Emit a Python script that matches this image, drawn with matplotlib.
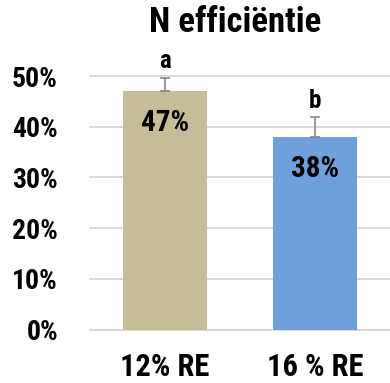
import matplotlib
matplotlib.use("Agg")
import matplotlib.pyplot as plt
from matplotlib import font_manager
from matplotlib.ticker import PercentFormatter

# Data
categories = ["12% RE", "16 % RE"]
efficiency = [0.47, 0.38]
error_up = [0.027, 0.039]
letters = ["a", "b"]
bar_colors = ["#C4BD97", "#6FA0DC"]
y_ticks = [0.0, 0.1, 0.2, 0.3, 0.4, 0.5]
title = "N efficiëntie"

# Pick a condensed family if one is installed
available = {f.name for f in font_manager.fontManager.ttflist}
family = "DejaVu Sans"
stretch = "normal"
for cand in ["Roboto Condensed", "Liberation Sans Narrow", "Open Sans Condensed",
             "DejaVu Sans Condensed"]:
    if cand in available:
        family = cand
        break
else:
    stretch = "condensed"

plt.rcParams["font.family"] = [family, "DejaVu Sans"]
plt.rcParams["font.stretch"] = stretch
plt.rcParams["font.weight"] = "bold"

fig = plt.figure(figsize=(3.9, 3.83), dpi=100)
ax = fig.add_axes([90 / 390, 53.3 / 383, 300 / 390, 253.7 / 383])

x = list(range(len(categories)))
ax.bar(x, efficiency, width=0.56, color=bar_colors, zorder=2)
ax.errorbar(x, efficiency, yerr=[[0] * len(error_up), error_up], fmt="none",
            ecolor="#7F7F7F", elinewidth=1.1, capsize=3.6, capthick=1.1, zorder=3)

for xi, v, e, lab in zip(x, efficiency, error_up, letters):
    ax.annotate(f"{v:.0%}", (xi, v), xytext=(0, -23), textcoords="offset points",
                ha="center", va="center", fontsize=21, fontweight="bold", color="black")
    ax.annotate(lab, (xi, v + e), xytext=(0, 6.5), textcoords="offset points",
                ha="center", va="baseline", fontsize=18, fontweight="bold", color="black")

ax.set_xlim(-0.5, 1.5)
ax.set_ylim(0, 0.5)
ax.set_yticks(y_ticks)
ax.yaxis.set_major_formatter(PercentFormatter(1.0, decimals=0))
ax.set_xticks(x)
ax.set_xticklabels(categories)
ax.tick_params(axis="y", length=0, pad=23, labelsize=20)
ax.tick_params(axis="x", length=0, pad=16, labelsize=22)
for lab in ax.get_yticklabels() + ax.get_xticklabels():
    lab.set_fontweight("bold")

ax.yaxis.grid(True, color="#D9D9D9", linewidth=1.4, zorder=0)
for gl in ax.get_ygridlines():
    gl.set_clip_on(False)
ax.set_axisbelow(True)
for s in ax.spines.values():
    s.set_visible(False)

fig.text(235 / 390, 1 - 22 / 383, title, ha="center", va="center",
         fontsize=25, fontweight="bold")

fig.savefig("out.png", dpi=100)
